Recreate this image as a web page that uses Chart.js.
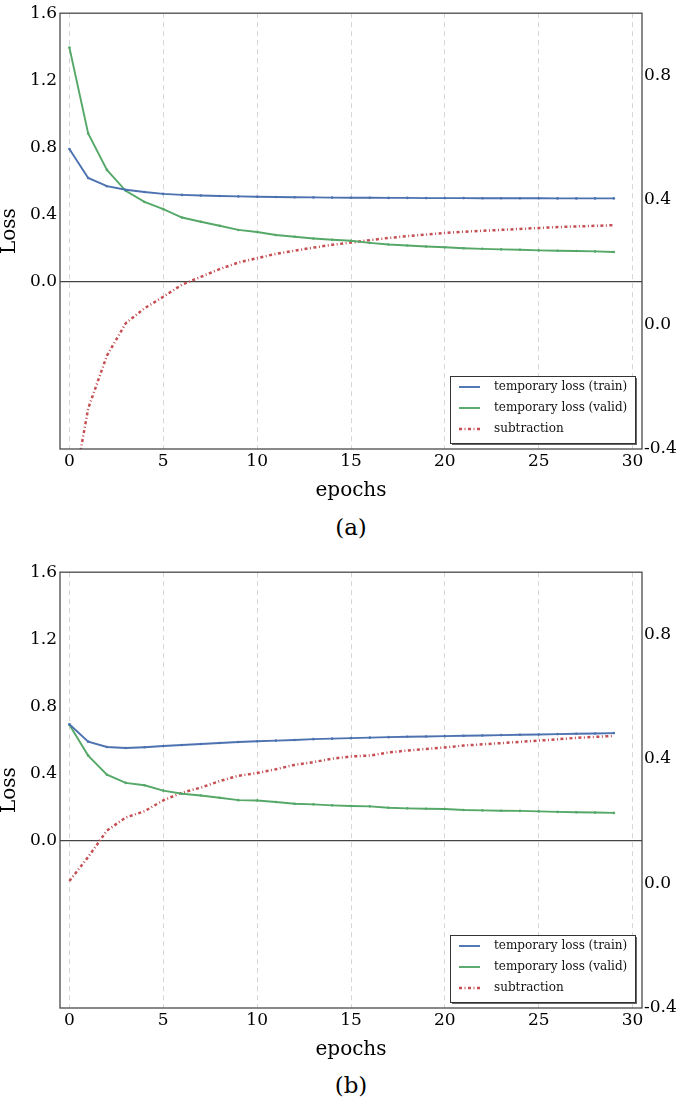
<!DOCTYPE html>
<html>
<head>
<meta charset="utf-8">
<script src="https://cdn.jsdelivr.net/npm/chart.js@4.4.1/dist/chart.umd.min.js"></script>
<style>
html,body{margin:0;padding:0;background:#fff;width:680px;height:1108px;overflow:hidden;}
.wrap{position:absolute;left:0;width:680px;height:505px;}
.cap{position:absolute;left:0;width:702px;text-align:center;font-family:"DejaVu Serif",serif;font-size:23px;line-height:26px;color:#000;}
</style>
</head>
<body>
<div class="wrap" style="top:0px"><canvas id="chartA" width="680" height="505"></canvas></div>
<div class="cap" style="top:514px">(a)</div>
<div class="wrap" style="top:559px"><canvas id="chartB" width="680" height="505"></canvas></div>
<div class="cap" style="top:1072px">(b)</div>
<script>
// ---- data ----
const epochs = [0,1,2,3,4,5,6,7,8,9,10,11,12,13,14,15,16,17,18,19,20,21,22,23,24,25,26,27,28,29];

const trainA = [0.790,0.617,0.568,0.547,0.533,0.522,0.516,0.512,0.509,0.507,0.505,0.503,0.502,0.501,0.500,0.499,0.499,0.498,0.498,0.497,0.497,0.497,0.496,0.496,0.496,0.496,0.495,0.495,0.495,0.495];
const validA = [1.395,0.883,0.665,0.540,0.474,0.431,0.381,0.356,0.332,0.307,0.295,0.277,0.266,0.256,0.248,0.242,0.230,0.220,0.214,0.208,0.204,0.198,0.194,0.191,0.189,0.185,0.183,0.181,0.179,0.175];
const subA   = [-0.605,-0.270,-0.100,0.004,0.052,0.089,0.128,0.153,0.178,0.199,0.213,0.227,0.237,0.247,0.256,0.263,0.271,0.278,0.284,0.289,0.294,0.298,0.301,0.304,0.307,0.310,0.313,0.315,0.317,0.319];

const trainB = [0.693,0.589,0.557,0.551,0.556,0.563,0.569,0.575,0.581,0.587,0.591,0.595,0.599,0.604,0.607,0.610,0.613,0.616,0.618,0.620,0.622,0.624,0.626,0.628,0.630,0.632,0.634,0.636,0.638,0.640];
const validB = [0.690,0.506,0.392,0.343,0.329,0.297,0.278,0.268,0.254,0.240,0.238,0.229,0.219,0.215,0.209,0.205,0.203,0.195,0.191,0.189,0.187,0.181,0.179,0.177,0.176,0.173,0.170,0.168,0.166,0.164];
const subB   = [0.008,0.085,0.170,0.212,0.232,0.267,0.292,0.308,0.329,0.346,0.355,0.367,0.381,0.390,0.401,0.408,0.411,0.421,0.427,0.432,0.437,0.443,0.447,0.451,0.455,0.459,0.463,0.468,0.471,0.474];

const seriesNames = ['temporary loss (train)','temporary loss (valid)','subtraction'];
const epochTicks = [0,5,10,15,20,25,30];
const lossTicks = [0.0,0.4,0.8,1.2,1.6];
const diffTicks = [-0.4,0.0,0.4,0.8];

// ---- styling ----
const SERIF = '"DejaVu Serif", serif';
const BLUE = '#4c72b0', GREEN = '#55a868', RED = '#c44e52';
const SUB_DASH = [3,2.5,1,2.5];

const framePlugin = {
  id: 'frame',
  afterDatasetsDraw(chart) {
    const {ctx, chartArea: a} = chart;
    ctx.save();
    ctx.strokeStyle = '#4a4a4a';
    ctx.lineWidth = 1.3;
    ctx.strokeRect(a.left, a.top, a.right - a.left, a.bottom - a.top);
    ctx.restore();
  }
};

const legendPlugin = {
  id: 'boxLegend',
  afterDraw(chart) {
    const {ctx, chartArea: a} = chart;
    const w = 185, h = 67;
    const x = a.right - 7 - w, y = a.bottom - 6 - h;
    ctx.save();
    ctx.fillStyle = '#666';
    ctx.fillRect(x + 2, y + 2, w, h);
    ctx.fillStyle = '#fff';
    ctx.fillRect(x, y, w, h);
    ctx.strokeStyle = '#333';
    ctx.lineWidth = 1;
    ctx.strokeRect(x + 0.5, y + 0.5, w, h);
    chart.data.datasets.forEach((ds, i) => {
      const cy = y + 11 + i * 21;
      ctx.beginPath();
      ctx.strokeStyle = ds.borderColor;
      ctx.lineWidth = ds.borderWidth;
      ctx.setLineDash(ds.borderDash || []);
      ctx.moveTo(x + 9, cy);
      ctx.lineTo(x + 30, cy);
      ctx.stroke();
      ctx.setLineDash([]);
      ctx.fillStyle = '#111';
      ctx.font = '12px ' + SERIF;
      ctx.textBaseline = 'middle';
      ctx.textAlign = 'left';
      ctx.fillText(ds.label, x + 44, cy);
    });
    ctx.restore();
  }
};

function pts(arr) { return epochs.map((e, i) => ({x: e, y: arr[i]})); }

function makeChart(id, train, valid, sub) {
  return new Chart(document.getElementById(id), {
    type: 'line',
    data: {
      datasets: [
        {label: seriesNames[0], data: pts(train), yAxisID: 'y', borderColor: BLUE, backgroundColor: BLUE,
         borderWidth: 1.9, pointRadius: 1.3, pointBorderWidth: 0, pointBackgroundColor: BLUE, tension: 0},
        {label: seriesNames[1], data: pts(valid), yAxisID: 'y', borderColor: GREEN, backgroundColor: GREEN,
         borderWidth: 1.9, pointRadius: 1.3, pointBorderWidth: 0, pointBackgroundColor: GREEN, tension: 0},
        {label: seriesNames[2], data: pts(sub), yAxisID: 'y1', borderColor: RED, backgroundColor: RED,
         borderWidth: 2.5, borderDash: SUB_DASH, pointRadius: 0, tension: 0}
      ]
    },
    options: {
      responsive: false,
      animation: false,
      devicePixelRatio: 1,
      layout: {padding: {top: 10, left: 0, right: 0, bottom: 0}},
      plugins: {legend: {display: false}, tooltip: {enabled: false}},
      scales: {
        x: {
          type: 'linear', min: -0.5, max: 30.5,
          afterBuildTicks: s => { s.ticks = epochTicks.map(v => ({value: v})); },
          afterFit: s => { s.height = 56; },
          grid: {color: '#d6d6d6', lineWidth: 1, drawTicks: false},
          border: {display: false, dash: [5, 4]},
          ticks: {font: {family: SERIF, size: 17}, color: '#000', padding: 2, maxRotation: 0,
                  callback: v => String(v)},
          title: {display: true, text: 'epochs', font: {family: SERIF, size: 20}, color: '#000',
                  padding: {top: 0, bottom: 2}}
        },
        y: {
          type: 'linear', position: 'left', min: -1.0, max: 1.6,
          afterBuildTicks: s => { s.ticks = lossTicks.map(v => ({value: v})); },
          afterFit: s => { s.width = 60; },
          grid: {color: c => (c.tick && c.tick.value === 0) ? '#444' : 'rgba(0,0,0,0)', lineWidth: 1.3, drawTicks: false},
          border: {display: false},
          ticks: {font: {family: SERIF, size: 17}, color: '#000', padding: 3,
                  callback: v => Number(v).toFixed(1)},
          title: {display: true, text: 'Loss', font: {family: SERIF, size: 20, lineHeight: 1.0}, color: '#000',
                  padding: {top: 0, bottom: 0}}
        },
        y1: {
          type: 'linear', position: 'right', min: -0.4, max: 1.0,
          afterBuildTicks: s => { s.ticks = diffTicks.map(v => ({value: v})); },
          afterFit: s => { s.width = 38; },
          grid: {drawOnChartArea: false, drawTicks: false},
          border: {display: false},
          ticks: {font: {family: SERIF, size: 17}, color: '#000', padding: 2,
                  callback: v => Number(v).toFixed(1)}
        }
      }
    },
    plugins: [framePlugin, legendPlugin]
  });
}

makeChart('chartA', trainA, validA, subA);
makeChart('chartB', trainB, validB, subB);
</script>
</body>
</html>
